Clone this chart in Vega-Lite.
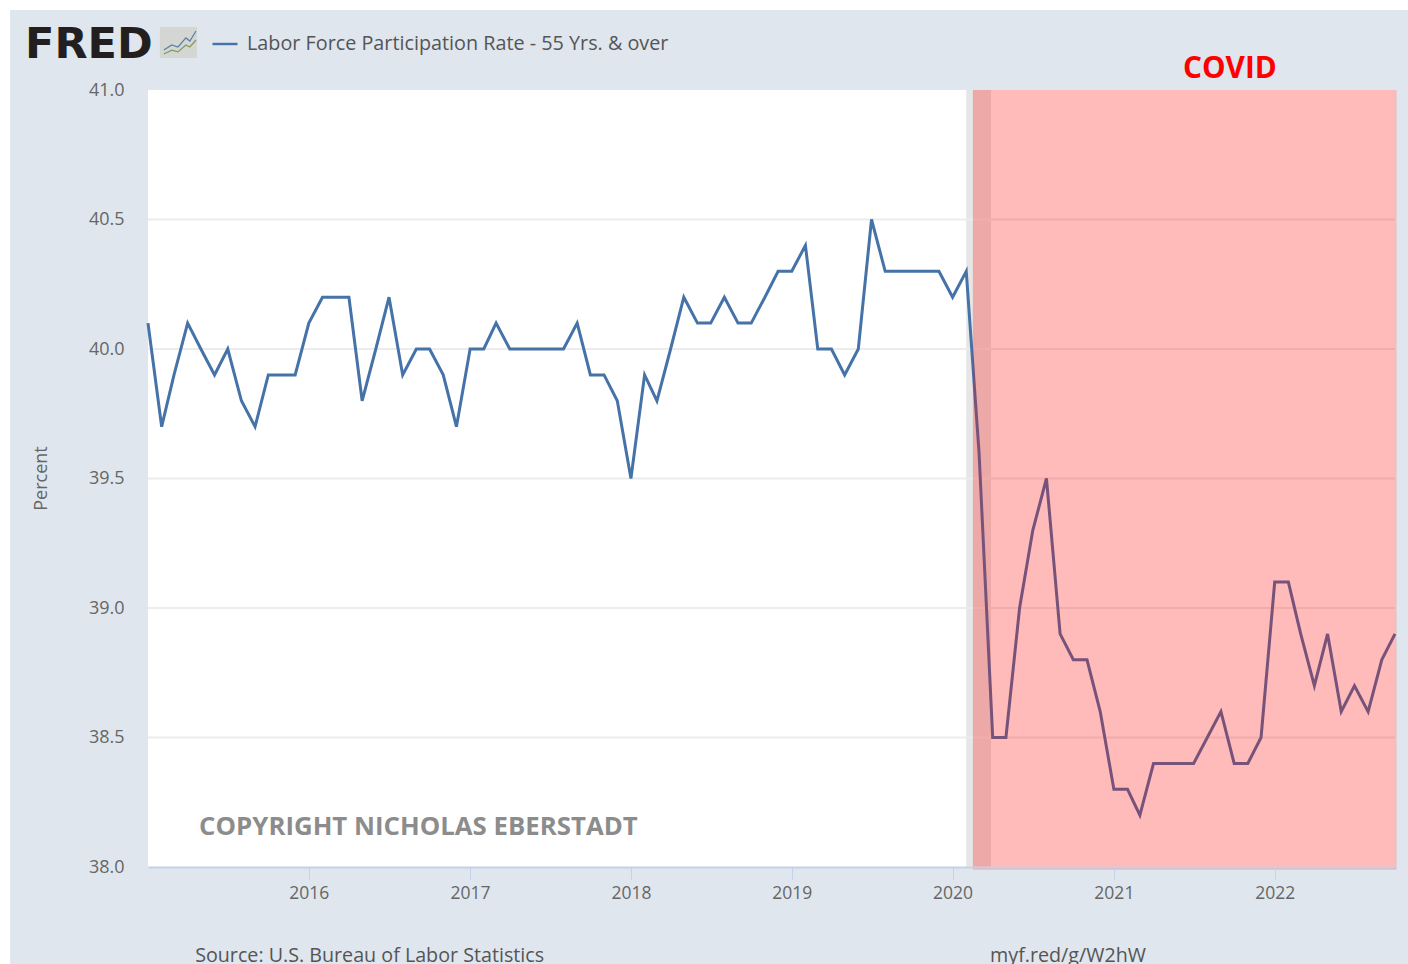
{
"$schema":"https://vega.github.io/schema/vega-lite/v6.json",
"width":1247,"height":777,
"autosize":"none",
"padding":{"left":148,"top":90,"right":13,"bottom":97},
"background":"#ffffff",
"view":{"stroke":null},
"config":{"font":"Open Sans"},
"datasets":{
"series":[
{"date":"2015-01-01","rate":40.1,"series":"Labor Force Participation Rate - 55 Yrs. & over"},
{"date":"2015-02-01","rate":39.7,"series":"Labor Force Participation Rate - 55 Yrs. & over"},
{"date":"2015-03-01","rate":39.9,"series":"Labor Force Participation Rate - 55 Yrs. & over"},
{"date":"2015-04-01","rate":40.1,"series":"Labor Force Participation Rate - 55 Yrs. & over"},
{"date":"2015-05-01","rate":40.0,"series":"Labor Force Participation Rate - 55 Yrs. & over"},
{"date":"2015-06-01","rate":39.9,"series":"Labor Force Participation Rate - 55 Yrs. & over"},
{"date":"2015-07-01","rate":40.0,"series":"Labor Force Participation Rate - 55 Yrs. & over"},
{"date":"2015-08-01","rate":39.8,"series":"Labor Force Participation Rate - 55 Yrs. & over"},
{"date":"2015-09-01","rate":39.7,"series":"Labor Force Participation Rate - 55 Yrs. & over"},
{"date":"2015-10-01","rate":39.9,"series":"Labor Force Participation Rate - 55 Yrs. & over"},
{"date":"2015-11-01","rate":39.9,"series":"Labor Force Participation Rate - 55 Yrs. & over"},
{"date":"2015-12-01","rate":39.9,"series":"Labor Force Participation Rate - 55 Yrs. & over"},
{"date":"2016-01-01","rate":40.1,"series":"Labor Force Participation Rate - 55 Yrs. & over"},
{"date":"2016-02-01","rate":40.2,"series":"Labor Force Participation Rate - 55 Yrs. & over"},
{"date":"2016-03-01","rate":40.2,"series":"Labor Force Participation Rate - 55 Yrs. & over"},
{"date":"2016-04-01","rate":40.2,"series":"Labor Force Participation Rate - 55 Yrs. & over"},
{"date":"2016-05-01","rate":39.8,"series":"Labor Force Participation Rate - 55 Yrs. & over"},
{"date":"2016-06-01","rate":40.0,"series":"Labor Force Participation Rate - 55 Yrs. & over"},
{"date":"2016-07-01","rate":40.2,"series":"Labor Force Participation Rate - 55 Yrs. & over"},
{"date":"2016-08-01","rate":39.9,"series":"Labor Force Participation Rate - 55 Yrs. & over"},
{"date":"2016-09-01","rate":40.0,"series":"Labor Force Participation Rate - 55 Yrs. & over"},
{"date":"2016-10-01","rate":40.0,"series":"Labor Force Participation Rate - 55 Yrs. & over"},
{"date":"2016-11-01","rate":39.9,"series":"Labor Force Participation Rate - 55 Yrs. & over"},
{"date":"2016-12-01","rate":39.7,"series":"Labor Force Participation Rate - 55 Yrs. & over"},
{"date":"2017-01-01","rate":40.0,"series":"Labor Force Participation Rate - 55 Yrs. & over"},
{"date":"2017-02-01","rate":40.0,"series":"Labor Force Participation Rate - 55 Yrs. & over"},
{"date":"2017-03-01","rate":40.1,"series":"Labor Force Participation Rate - 55 Yrs. & over"},
{"date":"2017-04-01","rate":40.0,"series":"Labor Force Participation Rate - 55 Yrs. & over"},
{"date":"2017-05-01","rate":40.0,"series":"Labor Force Participation Rate - 55 Yrs. & over"},
{"date":"2017-06-01","rate":40.0,"series":"Labor Force Participation Rate - 55 Yrs. & over"},
{"date":"2017-07-01","rate":40.0,"series":"Labor Force Participation Rate - 55 Yrs. & over"},
{"date":"2017-08-01","rate":40.0,"series":"Labor Force Participation Rate - 55 Yrs. & over"},
{"date":"2017-09-01","rate":40.1,"series":"Labor Force Participation Rate - 55 Yrs. & over"},
{"date":"2017-10-01","rate":39.9,"series":"Labor Force Participation Rate - 55 Yrs. & over"},
{"date":"2017-11-01","rate":39.9,"series":"Labor Force Participation Rate - 55 Yrs. & over"},
{"date":"2017-12-01","rate":39.8,"series":"Labor Force Participation Rate - 55 Yrs. & over"},
{"date":"2018-01-01","rate":39.5,"series":"Labor Force Participation Rate - 55 Yrs. & over"},
{"date":"2018-02-01","rate":39.9,"series":"Labor Force Participation Rate - 55 Yrs. & over"},
{"date":"2018-03-01","rate":39.8,"series":"Labor Force Participation Rate - 55 Yrs. & over"},
{"date":"2018-04-01","rate":40.0,"series":"Labor Force Participation Rate - 55 Yrs. & over"},
{"date":"2018-05-01","rate":40.2,"series":"Labor Force Participation Rate - 55 Yrs. & over"},
{"date":"2018-06-01","rate":40.1,"series":"Labor Force Participation Rate - 55 Yrs. & over"},
{"date":"2018-07-01","rate":40.1,"series":"Labor Force Participation Rate - 55 Yrs. & over"},
{"date":"2018-08-01","rate":40.2,"series":"Labor Force Participation Rate - 55 Yrs. & over"},
{"date":"2018-09-01","rate":40.1,"series":"Labor Force Participation Rate - 55 Yrs. & over"},
{"date":"2018-10-01","rate":40.1,"series":"Labor Force Participation Rate - 55 Yrs. & over"},
{"date":"2018-11-01","rate":40.2,"series":"Labor Force Participation Rate - 55 Yrs. & over"},
{"date":"2018-12-01","rate":40.3,"series":"Labor Force Participation Rate - 55 Yrs. & over"},
{"date":"2019-01-01","rate":40.3,"series":"Labor Force Participation Rate - 55 Yrs. & over"},
{"date":"2019-02-01","rate":40.4,"series":"Labor Force Participation Rate - 55 Yrs. & over"},
{"date":"2019-03-01","rate":40.0,"series":"Labor Force Participation Rate - 55 Yrs. & over"},
{"date":"2019-04-01","rate":40.0,"series":"Labor Force Participation Rate - 55 Yrs. & over"},
{"date":"2019-05-01","rate":39.9,"series":"Labor Force Participation Rate - 55 Yrs. & over"},
{"date":"2019-06-01","rate":40.0,"series":"Labor Force Participation Rate - 55 Yrs. & over"},
{"date":"2019-07-01","rate":40.5,"series":"Labor Force Participation Rate - 55 Yrs. & over"},
{"date":"2019-08-01","rate":40.3,"series":"Labor Force Participation Rate - 55 Yrs. & over"},
{"date":"2019-09-01","rate":40.3,"series":"Labor Force Participation Rate - 55 Yrs. & over"},
{"date":"2019-10-01","rate":40.3,"series":"Labor Force Participation Rate - 55 Yrs. & over"},
{"date":"2019-11-01","rate":40.3,"series":"Labor Force Participation Rate - 55 Yrs. & over"},
{"date":"2019-12-01","rate":40.3,"series":"Labor Force Participation Rate - 55 Yrs. & over"},
{"date":"2020-01-01","rate":40.2,"series":"Labor Force Participation Rate - 55 Yrs. & over"},
{"date":"2020-02-01","rate":40.3,"series":"Labor Force Participation Rate - 55 Yrs. & over"},
{"date":"2020-03-01","rate":39.6,"series":"Labor Force Participation Rate - 55 Yrs. & over"},
{"date":"2020-04-01","rate":38.5,"series":"Labor Force Participation Rate - 55 Yrs. & over"},
{"date":"2020-05-01","rate":38.5,"series":"Labor Force Participation Rate - 55 Yrs. & over"},
{"date":"2020-06-01","rate":39.0,"series":"Labor Force Participation Rate - 55 Yrs. & over"},
{"date":"2020-07-01","rate":39.3,"series":"Labor Force Participation Rate - 55 Yrs. & over"},
{"date":"2020-08-01","rate":39.5,"series":"Labor Force Participation Rate - 55 Yrs. & over"},
{"date":"2020-09-01","rate":38.9,"series":"Labor Force Participation Rate - 55 Yrs. & over"},
{"date":"2020-10-01","rate":38.8,"series":"Labor Force Participation Rate - 55 Yrs. & over"},
{"date":"2020-11-01","rate":38.8,"series":"Labor Force Participation Rate - 55 Yrs. & over"},
{"date":"2020-12-01","rate":38.6,"series":"Labor Force Participation Rate - 55 Yrs. & over"},
{"date":"2021-01-01","rate":38.3,"series":"Labor Force Participation Rate - 55 Yrs. & over"},
{"date":"2021-02-01","rate":38.3,"series":"Labor Force Participation Rate - 55 Yrs. & over"},
{"date":"2021-03-01","rate":38.2,"series":"Labor Force Participation Rate - 55 Yrs. & over"},
{"date":"2021-04-01","rate":38.4,"series":"Labor Force Participation Rate - 55 Yrs. & over"},
{"date":"2021-05-01","rate":38.4,"series":"Labor Force Participation Rate - 55 Yrs. & over"},
{"date":"2021-06-01","rate":38.4,"series":"Labor Force Participation Rate - 55 Yrs. & over"},
{"date":"2021-07-01","rate":38.4,"series":"Labor Force Participation Rate - 55 Yrs. & over"},
{"date":"2021-08-01","rate":38.5,"series":"Labor Force Participation Rate - 55 Yrs. & over"},
{"date":"2021-09-01","rate":38.6,"series":"Labor Force Participation Rate - 55 Yrs. & over"},
{"date":"2021-10-01","rate":38.4,"series":"Labor Force Participation Rate - 55 Yrs. & over"},
{"date":"2021-11-01","rate":38.4,"series":"Labor Force Participation Rate - 55 Yrs. & over"},
{"date":"2021-12-01","rate":38.5,"series":"Labor Force Participation Rate - 55 Yrs. & over"},
{"date":"2022-01-01","rate":39.1,"series":"Labor Force Participation Rate - 55 Yrs. & over"},
{"date":"2022-02-01","rate":39.1,"series":"Labor Force Participation Rate - 55 Yrs. & over"},
{"date":"2022-03-01","rate":38.9,"series":"Labor Force Participation Rate - 55 Yrs. & over"},
{"date":"2022-04-01","rate":38.7,"series":"Labor Force Participation Rate - 55 Yrs. & over"},
{"date":"2022-05-01","rate":38.9,"series":"Labor Force Participation Rate - 55 Yrs. & over"},
{"date":"2022-06-01","rate":38.6,"series":"Labor Force Participation Rate - 55 Yrs. & over"},
{"date":"2022-07-01","rate":38.7,"series":"Labor Force Participation Rate - 55 Yrs. & over"},
{"date":"2022-08-01","rate":38.6,"series":"Labor Force Participation Rate - 55 Yrs. & over"},
{"date":"2022-09-01","rate":38.8,"series":"Labor Force Participation Rate - 55 Yrs. & over"},
{"date":"2022-10-01","rate":38.9,"series":"Labor Force Participation Rate - 55 Yrs. & over"}
],
"iconLines":[
{"date":"2015-02-06","rate":41.154,"line":"a"},{"date":"2015-02-24","rate":41.174,"line":"a"},{"date":"2015-03-10","rate":41.166,"line":"a"},{"date":"2015-03-28","rate":41.201,"line":"a"},{"date":"2015-04-06","rate":41.189,"line":"a"},{"date":"2015-04-20","rate":41.228,"line":"a"},
{"date":"2015-02-06","rate":41.139,"line":"b"},{"date":"2015-02-24","rate":41.154,"line":"b"},{"date":"2015-03-10","rate":41.147,"line":"b"},{"date":"2015-03-28","rate":41.174,"line":"b"},{"date":"2015-04-06","rate":41.166,"line":"b"},{"date":"2015-04-20","rate":41.193,"line":"b"}
]
},
"layer":[
{"data":{"values":[{"x0":"2014-02-22","x1":"2023-03-01","y0":37.5,"y1":41.309}]},
 "mark":{"type":"rect","color":"#dfe6ee"},
 "encoding":{
  "x":{"field":"x0","type":"temporal","scale":{"domain":["2015-01-01","2022-10-01"]},
   "axis":{"zindex":1,"format":"%Y","values":["2016-01-01","2017-01-01","2018-01-01","2019-01-01","2020-01-01","2021-01-01","2022-01-01"],"title":null,"grid":false,"domainColor":"#c3d2e6","domainWidth":2,"tickColor":"#c3d2e6","tickSize":12,"labelFontSize":17.5,"labelColor":"#666666","labelPadding":5,"labelFlush":false}},
  "x2":{"field":"x1"},
  "y":{"field":"y0","type":"quantitative","scale":{"domain":[38,41],"nice":false,"zero":false},
   "axis":{"zindex":1,"values":[38,38.5,39,39.5,40,40.5,41],"format":".1f","grid":false,"domain":false,"ticks":false,"labelFontSize":18,"labelColor":"#666666","labelPadding":24,"title":"Percent","titleFontSize":18,"titleFontWeight":"normal","titleColor":"#666666","titleX":-98,"titleY":388}},
  "y2":{"field":"y1"}}},
{"data":{"values":[{"x0":"2015-01-01","x1":"2020-02-01","y0":38,"y1":41},{"x0":"2020-02-01","x1":"2022-10-03","y0":38,"y1":41}]},
 "mark":{"type":"rect","color":"#ffffff"},
 "encoding":{"x":{"field":"x0","type":"temporal"},"x2":{"field":"x1"},"y":{"field":"y0","type":"quantitative"},"y2":{"field":"y1"}}},
{"data":{"values":[{"x0":"2020-02-01","x1":"2020-03-28","y0":37.99,"y1":41}]},
 "mark":{"type":"rect","color":"#e6e6e6"},
 "encoding":{"x":{"field":"x0","type":"temporal"},"x2":{"field":"x1"},"y":{"field":"y0","type":"quantitative"},"y2":{"field":"y1"}}},
{"data":{"values":[{"v":38.5},{"v":39},{"v":39.5},{"v":40},{"v":40.5}]},
 "mark":{"type":"rule","color":"#ececec","strokeWidth":2},
 "encoding":{"y":{"field":"v","type":"quantitative"}}},
{"data":{"name":"series"},
 "mark":{"type":"line","strokeWidth":3,"interpolate":"linear"},
 "encoding":{
  "x":{"field":"date","type":"temporal"},
  "y":{"field":"rate","type":"quantitative"},
  "color":{"field":"series","type":"nominal","scale":{"range":["#4572a7"]},
   "legend":{"orient":"none","legendX":63,"legendY":-60,"title":null,"symbolType":"stroke","symbolSize":625,"symbolStrokeWidth":2.4,"labelFontSize":19.8,"labelColor":"#555555","labelLimit":600,"labelOffset":8}}}},
{"data":{"values":[{"x0":"2020-02-16","x1":"2022-10-04","y0":37.99,"y1":41}]},
 "mark":{"type":"rect","color":"#ff0000","opacity":0.27},
 "encoding":{"x":{"field":"x0","type":"temporal"},"x2":{"field":"x1"},"y":{"field":"y0","type":"quantitative"},"y2":{"field":"y1"}}},
{"data":{"values":[{"x0":"2015-01-28","x1":"2015-04-22","y0":41.124,"y1":41.243}]},
 "mark":{"type":"rect","color":"#d4d6d4"},
 "encoding":{"x":{"field":"x0","type":"temporal"},"x2":{"field":"x1"},"y":{"field":"y0","type":"quantitative"},"y2":{"field":"y1"}}},
{"data":{"name":"iconLines"},"transform":[{"filter":"datum.line==='a'"}],
 "mark":{"type":"line","color":"#5a7fa8","strokeWidth":1.2},
 "encoding":{"x":{"field":"date","type":"temporal"},"y":{"field":"rate","type":"quantitative"}}},
{"data":{"name":"iconLines"},"transform":[{"filter":"datum.line==='b'"}],
 "mark":{"type":"line","color":"#7f9a5c","strokeWidth":1.2},
 "encoding":{"x":{"field":"date","type":"temporal"},"y":{"field":"rate","type":"quantitative"}}},
{"data":{"values":[{"x":"2014-03-28","y":41.124,"t":"FRED"}]},
 "mark":{"type":"text","font":"DejaVu Sans","fontWeight":"bold","fontSize":43,"color":"#231f20","align":"left","baseline":"alphabetic"},
 "encoding":{"x":{"field":"x","type":"temporal"},"y":{"field":"y","type":"quantitative"},"text":{"field":"t"}}},
{"data":{"values":[{"x":"2021-06-07","y":41.081,"t":"COVID"}]},
 "mark":{"type":"text","fontWeight":"bold","fontSize":29.7,"color":"#ff0000","align":"left","baseline":"middle"},
 "encoding":{"x":{"field":"x","type":"temporal"},"y":{"field":"y","type":"quantitative"},"text":{"field":"t"}}},
{"data":{"values":[{"x":"2015-04-27","y":38.154,"t":"COPYRIGHT NICHOLAS EBERSTADT"}]},
 "mark":{"type":"text","fontWeight":"bold","fontSize":25.8,"color":"#8c8c8c","align":"left","baseline":"middle"},
 "encoding":{"x":{"field":"x","type":"temporal"},"y":{"field":"y","type":"quantitative"},"text":{"field":"t"}}},
{"data":{"values":[{"x":"2015-04-18","y":37.633,"t":"Source: U.S. Bureau of Labor Statistics"},{"x":"2020-03-26","y":37.633,"t":"myf.red/g/W2hW"}]},
 "mark":{"type":"text","fontSize":19.7,"color":"#555555","align":"left","baseline":"alphabetic"},
 "encoding":{"x":{"field":"x","type":"temporal"},"y":{"field":"y","type":"quantitative"},"text":{"field":"t"}}}
],
"resolve":{"scale":{"color":"independent"}}
}
